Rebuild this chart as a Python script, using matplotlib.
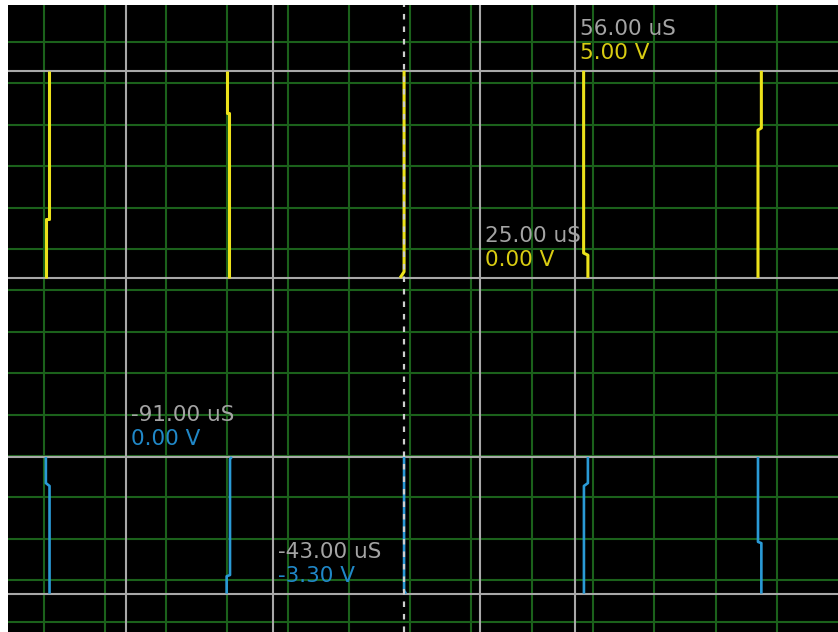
import matplotlib
matplotlib.use("Agg")
import matplotlib.pyplot as plt

plt.rcParams['lines.scale_dashes'] = False
plt.rcParams['font.family'] = ['DejaVu Sans']

# ---- data (time in uS, voltage in V) ----
# yellow channel edges: each edge is a small polyline (time, volts)
yellow_edge_t = [
    [-116.2, -116.2, -117.1, -117.1],
    [-58.0, -58.0, -57.3, -57.3],
    [0.0, 0.0, -1.3],
    [58.8, 58.8, 60.2, 60.2],
    [117.0, 117.0, 115.9, 115.9],
]
yellow_edge_v = [
    [5.0, 1.43, 1.43, 0.0],
    [5.0, 3.99, 3.99, 0.0],
    [5.0, 0.15, 0.0],
    [5.0, 0.60, 0.55, 0.0],
    [5.0, 3.62, 3.57, 0.0],
]
# blue channel edges
blue_edge_t = [
    [-117.3, -117.3, -116.1, -116.1],
    [-56.4, -57.0, -57.0, -58.1, -58.1],
    [0.0, 0.0, 0.6],
    [60.2, 60.2, 58.9, 58.9],
    [115.9, 115.9, 117.0, 117.0],
]
blue_edge_v = [
    [0.0, -0.63, -0.70, -3.3],
    [0.0, -0.05, -2.85, -2.88, -3.3],
    [0.0, -3.22, -3.3],
    [0.0, -0.63, -0.70, -3.3],
    [0.0, -2.05, -2.08, -3.3],
]

# cursors
cursor_times = [-91.0, -43.0, 25.0, 56.0]
cursor_channel = ['blue', 'blue', 'yellow', 'yellow']
cursor_volts = [0.00, -3.30, 0.00, 5.00]
cursor_time_labels = ['-91.00 uS', '-43.00 uS', '25.00 uS', '56.00 uS']
cursor_volt_labels = ['0.00 V', '-3.30 V', '0.00 V', '5.00 V']

# ---- styling / layout ----
BLUE_OFFSET = -4.324        # screen position of the blue channel ground
YELLOW_OFFSET = 0.0
GRID_T = [-118 + 20 * k for k in range(13)]
GRID_V = [0.7 + k for k in range(-9, 7)]

C_GRID = '#1b611b'
C_CURSOR = '#a8a8a8'
C_YEL = '#ece21a'
C_YEL_TXT = '#d9cc12'
C_BLUE = '#2a9ad6'
C_BLUE_TXT = '#2088c8'
C_TIME_TXT = '#a4a4a4'

fig = plt.figure(figsize=(8.38, 6.32), dpi=100, facecolor='white')
ax = fig.add_axes([8 / 838, 0, 830 / 838, 627 / 632])
ax.set_facecolor('black')
ax.set_xlim(-129.7, 142.1)
ax.set_ylim(-8.55, 6.59)
for sp in ax.spines.values():
    sp.set_visible(False)
ax.set_xticks([])
ax.set_yticks([])

# green graticule
for t in GRID_T:
    ax.axvline(t, color=C_GRID, lw=1.5, zorder=1)
for v in GRID_V:
    ax.axhline(v, color=C_GRID, lw=1.5, zorder=1)

# traces
for ts, vs in zip(yellow_edge_t, yellow_edge_v):
    ax.plot(ts, [v + YELLOW_OFFSET for v in vs], color=C_YEL, lw=2.2,
            solid_capstyle='butt', zorder=3)
for ts, vs in zip(blue_edge_t, blue_edge_v):
    ax.plot(ts, [v + BLUE_OFFSET for v in vs], color=C_BLUE, lw=1.9,
            solid_capstyle='butt', zorder=3)

# cursor lines
for t in cursor_times:
    ax.axvline(t, color=C_CURSOR, lw=1.5, zorder=2)
for ch, v in zip(cursor_channel, cursor_volts):
    off = BLUE_OFFSET if ch == 'blue' else YELLOW_OFFSET
    ax.axhline(v + off, color=C_CURSOR, lw=1.5, zorder=2)

# center (trigger) dashed line
ax.axvline(0.0, color='#cfcfcf', lw=1.6, linestyle=(0, (4.0, 5.0)), zorder=4)

# cursor labels
for t, ch, v, tl, vl in zip(cursor_times, cursor_channel, cursor_volts,
                            cursor_time_labels, cursor_volt_labels):
    off = BLUE_OFFSET if ch == 'blue' else YELLOW_OFFSET
    vcol = C_BLUE_TXT if ch == 'blue' else C_YEL_TXT
    ax.annotate(tl, xy=(t, v + off), xytext=(5, 36), textcoords='offset pixels',
                color=C_TIME_TXT, fontsize=15.5, ha='left', va='baseline', zorder=5)
    ax.annotate(vl, xy=(t, v + off), xytext=(5, 12), textcoords='offset pixels',
                color=vcol, fontsize=15.5, ha='left', va='baseline', zorder=5)

fig.savefig('out.png', dpi=100, facecolor='white')
